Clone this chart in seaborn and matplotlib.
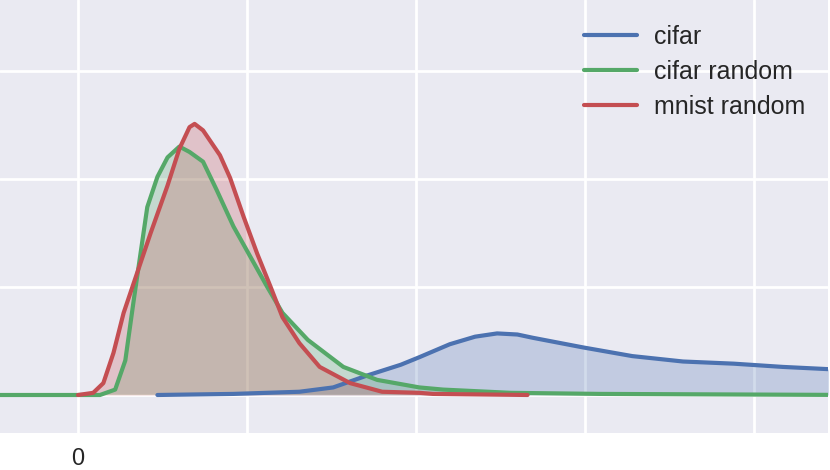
import numpy as np
import pandas as pd
import matplotlib
matplotlib.use('Agg')
import matplotlib.pyplot as plt
import seaborn as sns

# curves (x in tick units, y in grid units)
cifar_x = [0.47, 0.92, 1.31, 1.51, 1.71, 1.81, 1.91, 2.02, 2.20, 2.35, 2.48, 2.60, 2.69, 2.99, 3.28, 3.58, 3.88, 4.17, 4.43, 4.60]
cifar_y = [0.00, 0.01, 0.03, 0.07, 0.18, 0.23, 0.28, 0.35, 0.47, 0.54, 0.57, 0.56, 0.53, 0.44, 0.36, 0.31, 0.29, 0.26, 0.24, 0.23]

cifar_random_x = [-0.60, 0.13, 0.22, 0.28, 0.33, 0.37, 0.41, 0.47, 0.53, 0.60, 0.66, 0.74, 0.82, 0.92,
                  1.02, 1.12, 1.21, 1.36, 1.57, 1.77, 2.02, 2.16, 2.56, 3.09, 4.60]
cifar_random_y = [0.00, 0.00, 0.05, 0.32, 0.88, 1.31, 1.74, 2.02, 2.20, 2.30, 2.25, 2.16, 1.90, 1.56,
                  1.28, 1.00, 0.76, 0.51, 0.26, 0.14, 0.07, 0.05, 0.02, 0.01, 0.00]

mnist_random_x = [0.00, 0.09, 0.15, 0.21, 0.27, 0.35, 0.43, 0.53, 0.60, 0.66, 0.69, 0.74, 0.84, 0.90,
                  0.98, 1.06, 1.14, 1.21, 1.31, 1.43, 1.61, 1.80, 2.02, 2.10, 2.66]
mnist_random_y = [0.00, 0.02, 0.11, 0.39, 0.76, 1.13, 1.50, 1.94, 2.28, 2.48, 2.51, 2.45, 2.22, 2.01,
                  1.65, 1.31, 1.00, 0.72, 0.48, 0.26, 0.11, 0.03, 0.02, 0.01, 0.00]

labels = ['cifar', 'cifar random', 'mnist random']
colors = ['#4C72B0', '#55A868', '#C44E52']
xticks = [0, 1, 2, 3, 4]
xticklabels = ['0', '', '', '', '']
yticks = [0, 1, 2, 3]

sns.set_style('darkgrid')
plt.rcParams['font.family'] = ['Liberation Sans', 'DejaVu Sans']
plt.rcParams['grid.linewidth'] = 2.0

fig = plt.figure(figsize=(8.3, 4.7), dpi=100)
ax = fig.add_axes([0, 0.0787, 0.9976, 0.9213])

series = [(cifar_x, cifar_y), (cifar_random_x, cifar_random_y), (mnist_random_x, mnist_random_y)]
for (xs, ys), lab, col in zip(series, labels, colors):
    ax.fill_between(xs, ys, color=col, alpha=0.25, lw=0)
    sns.lineplot(x=xs, y=ys, color=col, lw=3.0, label=lab, ax=ax, sort=False)

ax.set_xlim(-0.4615, 4.438)
ax.set_ylim(-0.352, 3.657)
ax.set_xticks(xticks)
ax.set_xticklabels(xticklabels)
ax.set_yticks(yticks)
ax.set_yticklabels([])
ax.tick_params(axis='x', labelsize=17, pad=11, length=0)
ax.tick_params(axis='y', length=0)
for s in ax.spines.values():
    s.set_visible(False)

ax.legend(loc='upper right', frameon=False, fontsize=18, handlelength=2.1,
          handletextpad=0.7, labelspacing=0.45, bbox_to_anchor=(1.0, 0.995))

fig.savefig('out.png', dpi=100)
